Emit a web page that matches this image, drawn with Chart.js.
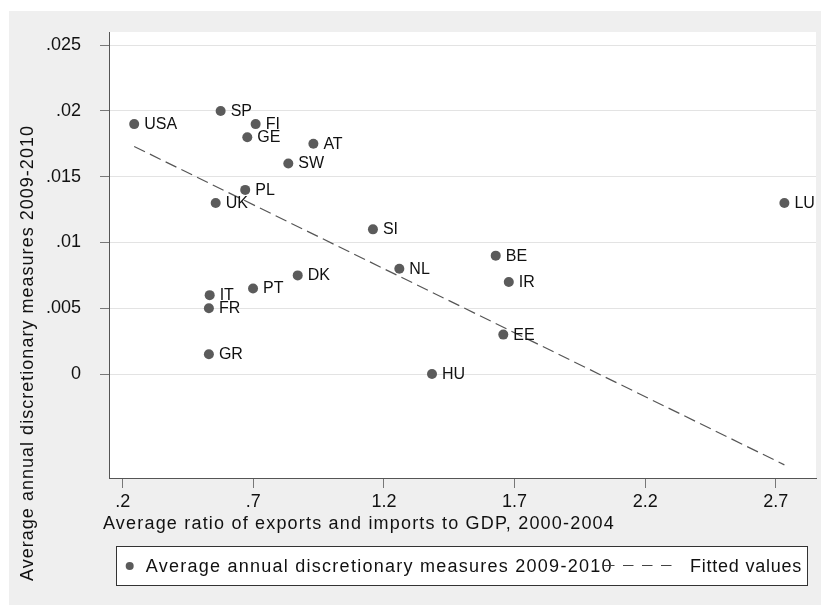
<!DOCTYPE html>
<html lang="en">
<head>
  <meta charset="UTF-8">
  <title>Discretionary measures and trade openness</title>
  <script src="https://cdn.jsdelivr.net/npm/chart.js@4.4.0/dist/chart.umd.min.js"></script>
  <style>
    body { margin: 0; background: #ffffff; }
    canvas { display: block; }
  </style>
</head>
<body>
  <canvas id="scatter" width="824" height="606"></canvas>

  <script>
    // values
    const countries = ['USA', 'SP', 'FI', 'GE', 'AT', 'SW', 'PL', 'UK', 'SI', 'NL',
                       'DK', 'PT', 'IT', 'FR', 'GR', 'BE', 'IR', 'LU', 'EE', 'HU'];
    const openness = [0.244, 0.575, 0.709, 0.677, 0.930, 0.834, 0.669, 0.556, 1.158, 1.259,
                      0.870, 0.699, 0.533, 0.530, 0.530, 1.628, 1.678, 2.733, 1.657, 1.384];
    const measures = [0.019, 0.020, 0.019, 0.018, 0.0175, 0.016, 0.014, 0.013, 0.011, 0.008,
                      0.0075, 0.0065, 0.006, 0.005, 0.0015, 0.009, 0.007, 0.013, 0.003, 0.000];
    // fitted line, end points
    const fittedX = [0.244, 2.733];
    const fittedY = [0.0173, -0.0069];

    const xTicks = [0.2, 0.7, 1.2, 1.7, 2.2, 2.7];
    const xTickLabels = ['.2', '.7', '1.2', '1.7', '2.2', '2.7'];
    const yTicks = [0, 0.005, 0.01, 0.015, 0.02, 0.025];
    const yTickLabels = ['0', '.005', '.01', '.015', '.02', '.025'];

    const seriesLabel = 'Average annual discretionary measures 2009-2010';
    const fitLabel = 'Fitted values';
    const xTitle = 'Average ratio of exports and imports to GDP, 2000-2004';
    const yTitle = 'Average annual discretionary measures 2009-2010';

    const FONT = '"Liberation Sans", Arial, sans-serif';

    // draw text stretched to a given width (Stata spaces its letters a bit)
    function fitText(ctx, text, x, y, width) {
      ctx.letterSpacing = '0px';
      const w = ctx.measureText(text).width;
      ctx.letterSpacing = ((width - w) / text.length) + 'px';
      ctx.fillText(text, x, y);
      ctx.letterSpacing = '0px';
    }

    // grey frame and white plot region
    const backdrop = {
      id: 'backdrop',
      beforeDraw(chart) {
        const { ctx, chartArea: a } = chart;
        ctx.save();
        ctx.fillStyle = '#efefef';
        ctx.fillRect(9, 11, 812, 594);
        ctx.fillStyle = '#ffffff';
        ctx.fillRect(a.left, a.top, a.right - a.left, a.bottom - a.top);
        ctx.restore();
      }
    };

    // country codes next to the markers
    const pointLabels = {
      id: 'pointLabels',
      afterDatasetsDraw(chart) {
        const ctx = chart.ctx;
        const meta = chart.getDatasetMeta(0);
        ctx.save();
        ctx.font = '16px ' + FONT;
        ctx.fillStyle = '#111111';
        ctx.textBaseline = 'middle';
        ctx.textAlign = 'left';
        meta.data.forEach((pt, i) => {
          ctx.fillText(countries[i], pt.x + 10, pt.y + 0.5);
        });
        ctx.restore();
      }
    };

    // axis titles and the boxed legend underneath
    const titlesAndLegend = {
      id: 'titlesAndLegend',
      afterDraw(chart) {
        const ctx = chart.ctx;
        ctx.save();
        ctx.fillStyle = '#111111';
        ctx.font = '18px ' + FONT;
        ctx.textBaseline = 'alphabetic';
        ctx.textAlign = 'left';

        fitText(ctx, xTitle, 103, 529, 512);

        ctx.save();
        ctx.translate(33, 581);
        ctx.rotate(-Math.PI / 2);
        fitText(ctx, yTitle, 0, 0, 456);
        ctx.restore();

        // legend box
        ctx.fillStyle = '#ffffff';
        ctx.fillRect(117, 546, 690, 39);
        ctx.strokeStyle = '#333333';
        ctx.lineWidth = 1;
        ctx.strokeRect(116.5, 546.5, 691, 39);

        ctx.fillStyle = '#5b5b5b';
        ctx.beginPath();
        ctx.arc(129.7, 566, 4, 0, Math.PI * 2);
        ctx.fill();

        ctx.fillStyle = '#111111';
        fitText(ctx, seriesLabel, 145.7, 572, 467);

        ctx.strokeStyle = '#444444';
        ctx.setLineDash([10.5, 8.5]);
        ctx.beginPath();
        ctx.moveTo(604, 565.5);
        ctx.lineTo(674, 565.5);
        ctx.stroke();
        ctx.setLineDash([]);

        fitText(ctx, fitLabel, 690, 572, 112);
        ctx.restore();
      }
    };

    const tickFont = { family: FONT, size: 18 };

    new Chart(document.getElementById('scatter').getContext('2d'), {
      type: 'scatter',
      data: {
        datasets: [
          {
            label: seriesLabel,
            data: openness.map((x, i) => ({ x: x, y: measures[i] })),
            backgroundColor: '#5b5b5b',
            borderWidth: 0,
            pointRadius: 5
          },
          {
            label: fitLabel,
            type: 'line',
            data: fittedX.map((x, i) => ({ x: x, y: fittedY[i] })),
            borderColor: '#555555',
            borderWidth: 1.2,
            borderDash: [12, 5.5],
            pointRadius: 0,
            fill: false
          }
        ]
      },
      options: {
        responsive: false,
        animation: false,
        layout: { padding: { left: 0, top: 32, right: 8, bottom: 0 } },
        plugins: {
          legend: { display: false },
          tooltip: { enabled: false }
        },
        scales: {
          x: {
            type: 'linear',
            min: 0.1476,
            max: 2.854,
            afterBuildTicks: s => { s.ticks = xTicks.map(v => ({ value: v })); },
            afterFit: s => { s.height = 128; },
            ticks: {
              autoSkip: false,
              maxRotation: 0,
              padding: 3,
              color: '#111111',
              font: tickFont,
              callback: v => xTickLabels[xTicks.indexOf(v)]
            },
            grid: { drawOnChartArea: false, tickLength: 10, tickColor: '#777777' },
            border: { color: '#555555', width: 1 }
          },
          y: {
            type: 'linear',
            min: -0.0079,
            max: 0.026,
            afterBuildTicks: s => { s.ticks = yTicks.map(v => ({ value: v })); },
            afterFit: s => { s.width = 109; },
            ticks: {
              autoSkip: false,
              padding: 19,
              color: '#111111',
              font: tickFont,
              callback: v => yTickLabels[yTicks.indexOf(v)]
            },
            grid: { color: '#e3e3e3', tickLength: 9, tickColor: '#777777' },
            border: { color: '#555555', width: 1 }
          }
        }
      },
      plugins: [backdrop, pointLabels, titlesAndLegend]
    });
  </script>
</body>
</html>
